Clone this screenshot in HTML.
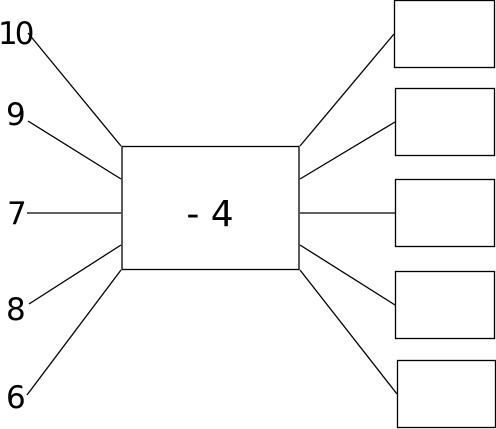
<!DOCTYPE html>
<html><head><style>
body{margin:0;background:#fff}
svg{display:block}
text{font-family:"DejaVu Sans","Liberation Sans",sans-serif;fill:#000}
</style></head><body>
<svg width="496" height="429">
<g stroke="#000" stroke-width="1.3" fill="none">
<rect x="122" y="146.5" width="177" height="123" fill="#fff"/>
<line x1="28" y1="33" x2="121" y2="146"/>
<line x1="28" y1="121" x2="121" y2="179"/>
<line x1="27" y1="213" x2="121" y2="213"/>
<line x1="29" y1="304" x2="121" y2="245"/>
<line x1="27" y1="395" x2="121" y2="270"/>
<line x1="300" y1="146" x2="394" y2="34"/>
<line x1="300" y1="179" x2="395" y2="122"/>
<line x1="300" y1="213" x2="395" y2="213"/>
<line x1="300" y1="245" x2="395" y2="305"/>
<line x1="300" y1="270" x2="397" y2="394"/>
<rect x="394.5" y="0.5" width="100" height="67"/>
<rect x="395.5" y="88.5" width="99" height="67"/>
<rect x="395.5" y="179.5" width="99" height="67"/>
<rect x="395.5" y="271.5" width="99" height="67"/>
<rect x="397.5" y="360.5" width="98" height="67"/>
</g>
<text x="-2" y="44" font-size="31" letter-spacing="-3">10</text>
<text x="6" y="125" font-size="31">9</text>
<text x="7" y="224" font-size="31">7</text>
<text x="6" y="320" font-size="31">8</text>
<text x="6" y="408" font-size="31">6</text>
<text x="210" y="226" font-size="36" text-anchor="middle">- 4</text>
</svg>
</body></html>
